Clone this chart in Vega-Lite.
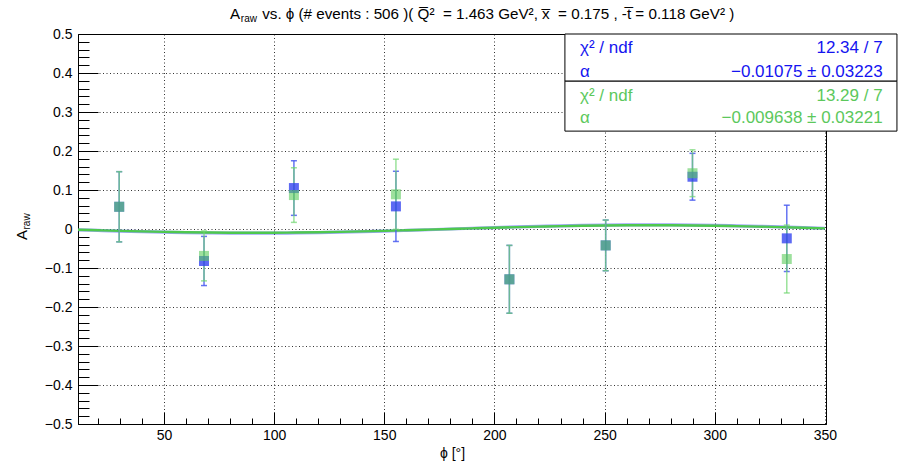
{
  "$schema": "https://vega.github.io/schema/vega-lite/v6.json",
  "width": 748,
  "height": 390,
  "autosize": {"type": "none"},
  "padding": {"left": 78, "top": 34, "right": 72, "bottom": 44},
  "background": "white",
  "config": {
    "font": "Liberation Sans",
    "view": {"stroke": "#000", "strokeWidth": 1},
    "axis": {"labelFont": "Liberation Sans", "titleFont": "Liberation Sans", "labelColor": "#000", "titleColor": "#000", "domainColor": "#000", "tickColor": "#000", "tickWidth": 1, "labelFontSize": 14, "titleFontSize": 14, "titleFontWeight": "normal"}
  },
  "datasets": {
    "pts": [
      {"phi": 29.7, "a": 0.057, "err": 0.09, "s": "blue"},
      {"phi": 68.2, "a": -0.082, "err": 0.063, "s": "blue"},
      {"phi": 109, "a": 0.105, "err": 0.07, "s": "blue"},
      {"phi": 155.3, "a": 0.058, "err": 0.09, "s": "blue"},
      {"phi": 206.8, "a": -0.129, "err": 0.087, "s": "blue"},
      {"phi": 250.5, "a": -0.042, "err": 0.065, "s": "blue"},
      {"phi": 289.9, "a": 0.134, "err": 0.06, "s": "blue"},
      {"phi": 332.7, "a": -0.024, "err": 0.085, "s": "blue"},
      {"phi": 29.7, "a": 0.057, "err": 0.09, "s": "green"},
      {"phi": 68.2, "a": -0.069, "err": 0.064, "s": "green"},
      {"phi": 109, "a": 0.087, "err": 0.07, "s": "green"},
      {"phi": 155.3, "a": 0.089, "err": 0.09, "s": "green"},
      {"phi": 206.8, "a": -0.129, "err": 0.087, "s": "green"},
      {"phi": 250.5, "a": -0.042, "err": 0.065, "s": "green"},
      {"phi": 289.9, "a": 0.143, "err": 0.06, "s": "green"},
      {"phi": 332.7, "a": -0.077, "err": 0.087, "s": "green"}
    ],
    "fit": [
      {"phi": 11, "b": -0.00205, "g": -0.00184},
      {"phi": 20, "b": -0.00368, "g": -0.0033},
      {"phi": 30, "b": -0.00538, "g": -0.00482},
      {"phi": 40, "b": -0.00691, "g": -0.0062},
      {"phi": 50, "b": -0.00823, "g": -0.00738},
      {"phi": 60, "b": -0.00931, "g": -0.00835},
      {"phi": 70, "b": -0.0101, "g": -0.00906},
      {"phi": 80, "b": -0.01059, "g": -0.00949},
      {"phi": 90, "b": -0.01075, "g": -0.00964},
      {"phi": 100, "b": -0.01059, "g": -0.00949},
      {"phi": 110, "b": -0.0101, "g": -0.00906},
      {"phi": 120, "b": -0.00931, "g": -0.00835},
      {"phi": 130, "b": -0.00823, "g": -0.00738},
      {"phi": 140, "b": -0.00691, "g": -0.0062},
      {"phi": 150, "b": -0.00538, "g": -0.00482},
      {"phi": 160, "b": -0.00368, "g": -0.0033},
      {"phi": 170, "b": -0.00187, "g": -0.00167},
      {"phi": 180, "b": 0, "g": 0},
      {"phi": 190, "b": 0.00187, "g": 0.00167},
      {"phi": 200, "b": 0.00368, "g": 0.0033},
      {"phi": 210, "b": 0.00538, "g": 0.00482},
      {"phi": 220, "b": 0.00691, "g": 0.0062},
      {"phi": 230, "b": 0.00823, "g": 0.00738},
      {"phi": 240, "b": 0.00931, "g": 0.00835},
      {"phi": 250, "b": 0.0101, "g": 0.00906},
      {"phi": 260, "b": 0.01059, "g": 0.00949},
      {"phi": 270, "b": 0.01075, "g": 0.00964},
      {"phi": 280, "b": 0.01059, "g": 0.00949},
      {"phi": 290, "b": 0.0101, "g": 0.00906},
      {"phi": 300, "b": 0.00931, "g": 0.00835},
      {"phi": 310, "b": 0.00823, "g": 0.00738},
      {"phi": 320, "b": 0.00691, "g": 0.0062},
      {"phi": 330, "b": 0.00538, "g": 0.00482},
      {"phi": 340, "b": 0.00368, "g": 0.0033},
      {"phi": 350, "b": 0.00187, "g": 0.00167}
    ]
  },
  "layer": [
    {
      "data": {"name": "fit"},
      "mark": {"type": "line", "color": "#3a4cf2", "strokeWidth": 3.2, "interpolate": "monotone", "opacity": 0.5},
      "encoding": {
        "x": {"field": "phi", "type": "quantitative", "scale": {"domain": [11, 350.5], "nice": false, "zero": false},
          "axis": {"orient": "bottom", "values": [50, 100, 150, 200, 250, 300, 350], "grid": true, "gridDash": [1, 2.5], "gridColor": "#000", "gridOpacity": 0.8, "ticks": false, "labelPadding": 4, "title": "ϕ [°]", "titlePadding": 4, "domain": true, "labelFlush": false}},
        "y": {"field": "b", "type": "quantitative", "scale": {"domain": [-0.5, 0.5], "nice": false, "zero": false},
          "axis": {"orient": "left", "values": [-0.5, -0.4, -0.3, -0.2, -0.1, 0, 0.1, 0.2, 0.3, 0.4, 0.5], "format": ".1~f", "grid": true, "gridDash": [1, 2.5], "gridColor": "#000", "gridOpacity": 0.8, "ticks": false, "labelPadding": 6, "title": null, "labelFlush": false}}
      }
    },
    {
      "data": {"name": "fit"},
      "mark": {"type": "line", "color": "#4ec84e", "strokeWidth": 2.4, "interpolate": "monotone"},
      "encoding": {
        "x": {"field": "phi", "type": "quantitative", "axis": {"orient": "bottom", "values": [20, 30, 40, 60, 70, 80, 90, 110, 120, 130, 140, 160, 170, 180, 190, 210, 220, 230, 240, 260, 270, 280, 290, 310, 320, 330, 340], "labels": false, "grid": false, "domain": false, "ticks": true, "tickSize": 6, "offset": -6, "title": null}},
        "y": {"field": "g", "type": "quantitative", "axis": {"orient": "left", "values": [-0.48, -0.46, -0.44, -0.42, -0.38, -0.36, -0.34, -0.32, -0.28, -0.26, -0.24, -0.22, -0.18, -0.16, -0.14, -0.12, -0.08, -0.06, -0.04, -0.02, 0.02, 0.04, 0.06, 0.08, 0.12, 0.14, 0.16, 0.18, 0.22, 0.24, 0.26, 0.28, 0.32, 0.34, 0.36, 0.38, 0.42, 0.44, 0.46, 0.48], "labels": false, "grid": false, "domain": false, "ticks": true, "tickSize": 11, "offset": -11, "title": null}}
      }
    },
    {
      "data": {"name": "pts"},
      "transform": [{"filter": "datum.s === 'blue'"}],
      "mark": {"type": "errorbar", "color": "#4a5cf0", "thickness": 1.5, "opacity": 0.85, "ticks": {"size": 6, "thickness": 1.5, "color": "#4a5cf0"}},
      "encoding": {
        "x": {"field": "phi", "type": "quantitative", "axis": null},
        "y": {"field": "a", "type": "quantitative", "axis": null},
        "yError": {"field": "err"}
      }
    },
    {
      "data": {"name": "pts"},
      "transform": [{"filter": "datum.s === 'green'"}],
      "mark": {"type": "errorbar", "color": "#6fd66f", "thickness": 1.5, "opacity": 0.7, "ticks": {"size": 6, "thickness": 1.5, "color": "#6fd66f"}},
      "encoding": {
        "x": {"field": "phi", "type": "quantitative", "axis": null},
        "y": {"field": "a", "type": "quantitative", "axis": null},
        "yError": {"field": "err"}
      }
    },
    {
      "data": {"name": "pts"},
      "transform": [{"filter": "datum.s === 'blue'"}],
      "mark": {"type": "point", "shape": "square", "size": 100, "filled": true, "color": "#3040f0", "opacity": 0.78},
      "encoding": {
        "x": {"field": "phi", "type": "quantitative", "axis": {"orient": "bottom", "values": [50, 100, 150, 200, 250, 300], "labels": false, "grid": false, "domain": false, "ticks": true, "tickSize": 12, "offset": -12, "title": null}},
        "y": {"field": "a", "type": "quantitative", "axis": {"orient": "left", "values": [-0.4, -0.3, -0.2, -0.1, 0, 0.1, 0.2, 0.3, 0.4], "labels": false, "grid": false, "domain": false, "ticks": true, "tickSize": 20, "offset": -20, "title": null}}
      }
    },
    {
      "data": {"name": "pts"},
      "transform": [{"filter": "datum.s === 'green'"}],
      "mark": {"type": "point", "shape": "square", "size": 100, "filled": true, "color": "#5ccc5c", "opacity": 0.6},
      "encoding": {
        "x": {"field": "phi", "type": "quantitative", "axis": null},
        "y": {"field": "a", "type": "quantitative", "axis": null}
      }
    },
    {
      "data": {"values": [{"k": 1}]},
      "mark": {"type": "rect", "fill": "white", "stroke": "#000", "strokeWidth": 1},
      "encoding": {"x": {"datum": 232, "axis": null}, "x2": {"datum": 382.7}, "y": {"datum": 0.5, "axis": null}, "y2": {"datum": 0.379}}
    },
    {
      "data": {"values": [{"k": 1}]},
      "mark": {"type": "rect", "fill": "white", "stroke": "#000", "strokeWidth": 1},
      "encoding": {"x": {"datum": 232, "axis": null}, "x2": {"datum": 382.7}, "y": {"datum": 0.379, "axis": null}, "y2": {"datum": 0.251}}
    },
    {
      "data": {"values": [{"t": ["χ² / ndf", "α"]}]},
      "mark": {"type": "text", "align": "left", "baseline": "alphabetic", "fontSize": 17, "lineHeight": 24, "color": "#1414f0"},
      "encoding": {"x": {"datum": 238.85, "axis": null}, "y": {"datum": 0.4513, "axis": null}, "text": {"field": "t"}}
    },
    {
      "data": {"values": [{"t": ["12.34 / 7", "−0.01075 ± 0.03223"]}]},
      "mark": {"type": "text", "align": "right", "baseline": "alphabetic", "fontSize": 17, "lineHeight": 24, "color": "#1414f0"},
      "encoding": {"x": {"datum": 376.2, "axis": null}, "y": {"datum": 0.4513, "axis": null}, "text": {"field": "t"}}
    },
    {
      "data": {"values": [{"t": ["χ² / ndf", "α"]}]},
      "mark": {"type": "text", "align": "left", "baseline": "alphabetic", "fontSize": 17, "lineHeight": 22, "color": "#5cc85c"},
      "encoding": {"x": {"datum": 238.85, "axis": null}, "y": {"datum": 0.3282, "axis": null}, "text": {"field": "t"}}
    },
    {
      "data": {"values": [{"t": ["13.29 / 7", "−0.009638 ± 0.03221"]}]},
      "mark": {"type": "text", "align": "right", "baseline": "alphabetic", "fontSize": 17, "lineHeight": 22, "color": "#5cc85c"},
      "encoding": {"x": {"datum": 376.2, "axis": null}, "y": {"datum": 0.3282, "axis": null}, "text": {"field": "t"}}
    },
    {
      "data": {"values": [{"t": "A"}]},
      "mark": {"type": "text", "align": "left", "baseline": "alphabetic", "fontSize": 15.2, "color": "#000"},
      "encoding": {"x": {"datum": 80.0, "axis": null}, "y": {"datum": 0.5397, "axis": null}, "text": {"field": "t"}}
    },
    {
      "data": {"values": [{"t": "raw"}]},
      "mark": {"type": "text", "align": "left", "baseline": "alphabetic", "fontSize": 10, "dy": 3, "color": "#000"},
      "encoding": {"x": {"datum": 84.9, "axis": null}, "y": {"datum": 0.5397, "axis": null}, "text": {"field": "t"}}
    },
    {
      "data": {"values": [{"t": "vs. ϕ (# events : 506 )(\u00a0Q̅²\u00a0\u00a0= 1.463 GeV², x̅\u00a0\u00a0= 0.175 , -t̅ = 0.118 GeV² )"}]},
      "mark": {"type": "text", "align": "left", "baseline": "alphabetic", "fontSize": 15.2, "color": "#000"},
      "encoding": {"x": {"datum": 94.6, "axis": null}, "y": {"datum": 0.5397, "axis": null}, "text": {"field": "t"}}
    },
    {
      "data": {"values": [{"t": "A"}]},
      "mark": {"type": "text", "align": "left", "baseline": "alphabetic", "fontSize": 15, "angle": 270, "color": "#000"},
      "encoding": {"x": {"datum": -12.15, "axis": null}, "y": {"datum": -0.0282, "axis": null}, "text": {"field": "t"}}
    },
    {
      "data": {"values": [{"t": "raw"}]},
      "mark": {"type": "text", "align": "left", "baseline": "alphabetic", "fontSize": 10, "angle": 270, "dy": 3, "color": "#000"},
      "encoding": {"x": {"datum": -12.15, "axis": null}, "y": {"datum": -0.0013, "axis": null}, "text": {"field": "t"}}
    }
  ],
  "resolve": {"axis": {"x": "independent", "y": "independent"}}
}
